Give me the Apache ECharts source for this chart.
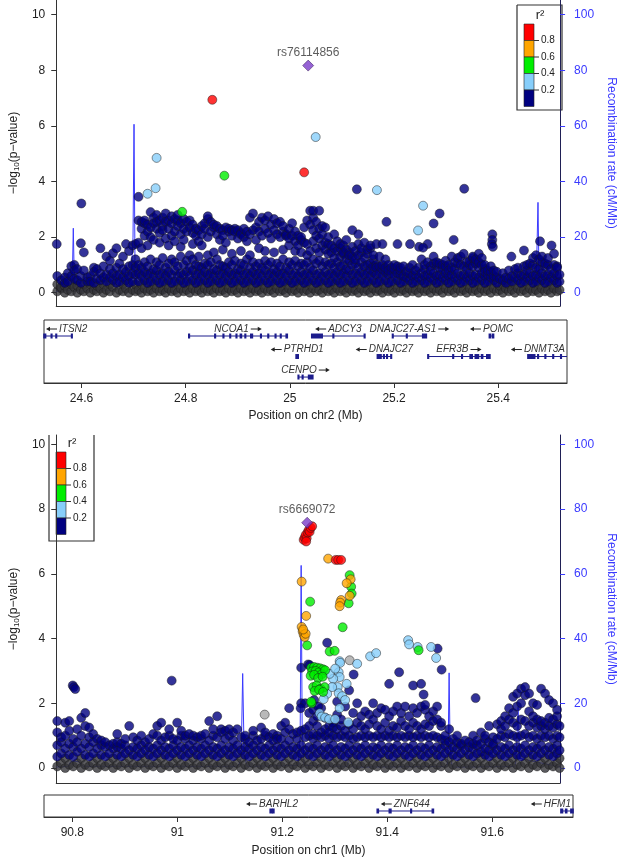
<!DOCTYPE html>
<html><head><meta charset="utf-8">
<script src="https://cdn.jsdelivr.net/npm/echarts@6/dist/echarts.min.js"></script>
<style>html,body{margin:0;padding:0;background:#fff}#c{width:625px;height:859px}</style>
</head><body><div id="c"></div>
<script>
// ---------------- DATA: top panel (chr2) ----------------
const topTicks = [24.6, 24.8, 25, 25.2, 25.4];
const pTicks = [0, 2, 4, 6, 8, 10];
const rTicks = [0, 20, 40, 60, 80, 100];
const ldBreaks = ['0.8', '0.6', '0.4', '0.2'];
const ldColors = ['#FF0000', '#FFA500', '#00EE00', '#87CEFA', '#000080'];

const topLead = [[25.030, 8.17]];
const topLeadName = ['rs76114856'];
const topRed = [[24.839, 6.94], [25.022, 4.33]];
const topGreen = [[24.863, 4.21], [24.779, 2.91]];
const topLightBlue = [[25.045, 5.60], [24.728, 4.85], [24.726, 3.76], [24.710, 3.56], [25.167, 3.69], [25.259, 3.13], [25.249, 2.24]];
const topNavyExtra = [[25.127, 3.72], [25.341, 3.74], [24.578, 3.21], [24.692, 3.45], [25.186, 2.55], [25.292, 2.85], [25.280, 2.49], [25.320, 1.90], [25.397, 2.1], [25.397, 1.9], [25.396, 1.75], [25.398, 1.65], [24.529, 1.75], [25.435, 1.3], [25.460, 1.52], [25.492, 1.85], [25.515, 1.7], [25.233, 1.75], [25.251, 1.65], [25.259, 1.62], [25.208, 1.75]];
const topCloud = [
[24.530,[0.05,0.3,0.6]],[24.538,[0.15,0.45,0.2]],[24.545,[0.0,0.35,0.55,0.25]],[24.551,[0.1,0.4,0.7]],
[24.558,[0.05,0.3,0.6,0.95]],[24.564,[0.2,0.5,1.0,0.8]],[24.570,[0.0,0.25,0.45,0.85]],[24.577,[0.1,0.35,0.6,1.78]],
[24.583,[0.05,0.3,1.45,0.8]],[24.590,[0.15,0.4,0.55]],[24.596,[0.0,0.3,0.6,0.4]],[24.603,[0.1,0.35,0.9,0.75]],
[24.609,[0.05,0.25,0.5,0.85]],[24.616,[0.15,0.45,0.7,1.6]],[24.622,[0.0,0.3,0.55,0.95]],[24.628,[0.1,0.4,0.65,1.3]],
[24.635,[0.05,0.3,0.55,1.15,0.85]],[24.641,[0.2,0.45,0.7,1.42]],[24.648,[0.0,0.35,0.6,0.9,1.6]],[24.654,[0.1,0.4,0.65,1.05]],
[24.661,[0.05,0.3,0.55,0.85,1.3]],[24.667,[0.15,0.45,0.75,1.75]],[24.673,[0.0,0.35,0.6,0.95,1.5]],[24.680,[0.1,0.4,0.7,1.0,1.7]],
[24.686,[0.05,0.3,0.65,0.9,1.75,1.2]],
[24.692,[0.1,0.4,0.7,1.0,1.8,2.6]],[24.698,[0.0,0.3,0.6,0.9,1.6,2.3,2.55]],[24.704,[0.15,0.45,0.75,1.1,2.05,2.5,2.6]],
[24.710,[0.05,0.35,0.65,0.95,1.7,2.2,2.45]],[24.716,[0.1,0.4,0.7,1.2,2.0,2.35,2.9]],[24.722,[0.0,0.3,0.6,0.85,1.9,2.7,2.5]],
[24.728,[0.15,0.45,0.8,1.1,2.3,2.55,2.8]],[24.734,[0.05,0.35,0.65,1.0,1.8,2.15,2.6]],[24.740,[0.1,0.4,0.7,1.25,2.4,2.7,2.25]],
[24.746,[0.0,0.3,0.6,0.9,1.95,2.55,2.85]],[24.752,[0.15,0.45,0.75,1.05,1.7,2.3,2.6]],[24.758,[0.05,0.35,0.65,1.2,2.05,2.5,2.75]],
[24.764,[0.1,0.4,0.8,1.1,1.85,2.2,2.65]],[24.770,[0.0,0.3,0.6,0.95,2.4,2.6,2.8]],[24.776,[0.15,0.45,0.7,1.3,1.65,2.1,2.5]],
[24.782,[0.05,0.35,0.65,1.0,1.9,2.3,2.65]],[24.788,[0.1,0.4,0.75,1.15,2.2,2.55]],[24.794,[0.0,0.3,0.6,0.9,1.35,2.35,2.6]],
[24.800,[0.15,0.45,0.8,1.2,1.75,2.15,2.45]],[24.806,[0.05,0.35,0.65,1.0,2.05,2.3]],[24.812,[0.1,0.4,0.7,0.95,1.3,1.85,2.25]],
[24.818,[0.0,0.3,0.6,0.9,2.1,2.4,1.7]],[24.824,[0.15,0.45,0.75,1.05,2.3,2.5]],[24.830,[0.05,0.35,0.65,1.0,1.35,2.0,2.65,2.75]],
[24.836,[0.1,0.4,0.7,1.1,2.2,2.55]],[24.842,[0.0,0.3,0.6,0.85,1.45,2.35,2.45]],[24.848,[0.15,0.45,0.8,1.2,2.1,2.4]],
[24.854,[0.05,0.35,0.65,1.0,1.9,2.3]],[24.860,[0.1,0.4,0.7,0.95,1.55,2.25,2.05]],[24.866,[0.0,0.3,0.6,0.9,1.8,2.35]],
[24.872,[0.15,0.45,0.75,1.1,2.2,2.3]],[24.878,[0.05,0.35,0.65,1.0,1.4,2.05,2.25]],[24.884,[0.1,0.4,0.7,1.15,2.3,2.2]],
[24.890,[0.0,0.3,0.6,0.85,1.95,2.25]],[24.896,[0.15,0.45,0.8,1.05,1.5,2.15,2.1]],[24.902,[0.05,0.35,0.65,1.0,2.0,2.3]],
[24.908,[0.1,0.4,0.7,1.2,1.85,2.2]],[24.914,[0.0,0.3,0.6,0.9,1.35,2.1,2.7]],[24.920,[0.15,0.45,0.75,1.1,2.25,2.85]],
[24.926,[0.05,0.35,0.65,0.95,1.9,2.35]],[24.932,[0.1,0.4,0.7,1.05,1.6,2.2,2.55]],[24.938,[0.0,0.3,0.6,0.9,2.05,2.7]],
[24.944,[0.15,0.45,0.8,1.15,1.5,2.3,2.6]],[24.950,[0.05,0.35,0.65,1.0,2.15,2.75]],[24.956,[0.1,0.4,0.7,1.1,1.95,2.45]],
[24.962,[0.0,0.3,0.6,0.85,1.45,2.25,2.65]],[24.968,[0.15,0.45,0.75,1.05,2.1,2.5]],[24.974,[0.05,0.35,0.65,0.95,2.0,2.55]],
[24.980,[0.1,0.4,0.7,1.2,1.55,2.2,2.4]],[24.986,[0.0,0.3,0.6,0.9,2.1,2.05]],[24.992,[0.15,0.45,0.8,1.1,1.7,2.3,1.95]],
[24.998,[0.05,0.35,0.65,1.0,2.05,2.5]],[25.004,[0.1,0.4,0.7,1.15,1.5,1.85,2.2]],[25.010,[0.0,0.3,0.6,0.95,1.7,2.05]],
[25.016,[0.15,0.45,0.75,1.05,1.45,1.9,2.0]],[25.022,[0.05,0.35,0.65,1.0,1.8,2.35]],[25.028,[0.1,0.4,0.7,1.1,1.35,1.75,2.6]],
[25.034,[0.0,0.3,0.6,0.9,1.5,2.45,2.95]],[25.040,[0.15,0.45,0.8,1.2,1.85,2.25,2.7,2.95]],[25.046,[0.05,0.35,0.65,1.05,1.6,2.05,2.55]],
[25.052,[0.1,0.4,0.7,1.15,1.45,1.95,2.3,2.95]],[25.058,[0.0,0.3,0.6,0.95,1.7,2.1,2.4]],[25.064,[0.15,0.45,0.75,1.1,1.55,1.8,2.35]],
[25.070,[0.05,0.35,0.65,1.0,1.4,1.75,2.0]],
[25.076,[0.1,0.4,0.7,1.05,1.45,1.7]],[25.082,[0.0,0.3,0.6,0.9,1.25,1.6,2.1]],[25.088,[0.15,0.45,0.75,1.1,1.5,1.85]],
[25.094,[0.05,0.35,0.65,0.95,1.3,1.6,1.75]],[25.100,[0.1,0.4,0.7,1.0,1.4,1.7,1.45]],[25.106,[0.0,0.3,0.6,0.85,1.2,1.55,1.9]],
[25.112,[0.15,0.45,0.8,1.15,1.45,1.35]],[25.118,[0.05,0.35,0.65,1.0,1.3,1.65,2.25]],[25.124,[0.1,0.4,0.7,1.05,1.5,1.2]],
[25.130,[0.0,0.3,0.6,0.9,1.35,1.75,2.1]],[25.136,[0.15,0.45,0.75,1.1,1.45,1.6]],[25.142,[0.05,0.35,0.65,0.95,1.25,1.8]],
[25.148,[0.1,0.4,0.7,1.0,1.4,1.55]],[25.154,[0.0,0.3,0.6,0.85,1.05,1.6,1.7]],[25.160,[0.15,0.45,0.75,0.95,1.2,1.35]],
[25.166,[0.05,0.35,0.65,1.0,0.9,1.75]],[25.172,[0.1,0.4,0.7,0.95,1.3]],[25.178,[0.0,0.3,0.6,0.85,1.0,1.75]],
[25.184,[0.15,0.45,0.75,0.9,1.2]],[25.190,[0.05,0.35,0.65,1.0,0.8]],[25.196,[0.1,0.4,0.7,0.9]],
[25.202,[0.0,0.3,0.6,0.85,1.0]],[25.208,[0.15,0.45,0.7,0.95]],[25.214,[0.05,0.35,0.65,0.8,0.9]],
[25.220,[0.1,0.4,0.6,0.95]],[25.226,[0.0,0.3,0.55,0.75]],[25.232,[0.15,0.45,0.7,0.9]],
[25.238,[0.05,0.35,0.6,1.0]],[25.244,[0.1,0.4,0.65,0.8]],[25.250,[0.0,0.3,0.55,0.9]],
[25.256,[0.15,0.45,0.7,1.2]],[25.262,[0.05,0.35,0.6,0.85,1.0]],[25.268,[0.1,0.4,0.65,1.1,1.75]],
[25.274,[0.0,0.3,0.55,0.95,0.8]],[25.280,[0.15,0.45,0.7,1.05,1.3]],[25.286,[0.05,0.35,0.6,1.0,1.1]],
[25.292,[0.1,0.4,0.65,0.9,1.05]],[25.298,[0.0,0.3,0.55,0.85,1.0]],[25.304,[0.15,0.45,0.7,0.95,1.15]],
[25.310,[0.05,0.35,0.6,1.0,0.8]],[25.316,[0.1,0.4,0.65,0.9,1.3]],[25.322,[0.0,0.3,0.55,0.85,1.1]],
[25.328,[0.15,0.45,0.7,1.05,1.25]],[25.334,[0.05,0.35,0.6,1.0,1.3]],[25.340,[0.1,0.4,0.65,0.95,1.4]],
[25.346,[0.0,0.3,0.55,0.85,1.1]],[25.352,[0.15,0.45,0.7,1.0,1.15]],[25.358,[0.05,0.35,0.6,0.95,1.25,1.3]],
[25.364,[0.1,0.4,0.65,1.05,1.2]],[25.370,[0.0,0.3,0.55,0.9,1.1,1.4]],[25.376,[0.15,0.45,0.7,1.0,1.25]],
[25.382,[0.05,0.35,0.6,0.85,1.0,0.75]],[25.388,[0.1,0.4,0.65,0.8]],[25.394,[0.0,0.3,0.55,0.75,0.95]],
[25.400,[0.15,0.45,0.6,0.8]],[25.406,[0.05,0.35,0.55,0.75]],[25.412,[0.1,0.25,0.5]],
[25.418,[0.0,0.3,0.45,0.7]],[25.424,[0.15,0.35,0.55]],[25.430,[0.05,0.3,0.5,0.8]],
[25.436,[0.1,0.4,0.6]],[25.442,[0.0,0.3,0.55,0.85]],[25.448,[0.15,0.45,0.7,0.9]],
[25.454,[0.05,0.35,0.6]],[25.460,[0.1,0.4,0.65,0.95]],[25.466,[0.0,0.3,0.55,0.8,1.0]],
[25.472,[0.15,0.45,0.7,1.05]],[25.478,[0.05,0.35,0.6,1.0,1.25]],[25.484,[0.1,0.4,0.65,0.9,1.35]],
[25.490,[0.0,0.3,0.55,0.85,1.2]],[25.496,[0.15,0.45,0.7,1.1,1.3]],[25.502,[0.05,0.35,0.6,0.95,1.05]],
[25.508,[0.1,0.4,0.65,1.0,1.25]],[25.514,[0.0,0.3,0.55,0.85]],[25.520,[0.15,0.45,0.7,1.0,1.4]],
[25.526,[0.05,0.35,0.6,0.95,0.9]],[25.531,[0.1,0.4,0.65]]
];
const topRecombPos  = [24.528,24.555,24.560,24.562,24.564,24.570,24.640,24.660,24.668,24.672,24.676,24.681,24.683,24.685,24.690,24.800,24.950,24.960,25.060,25.070,25.200,25.300,25.480,25.485,25.488,25.490,25.495,25.532];
const topRecombRate = [0.5,0.8,5,23.2,4,0.6,0.8,2,10,4,1.5,20,60.6,8,0.6,0.4,0.5,1.2,1.2,0.4,0.5,0.3,1.0,8,32.5,6,0.8,0.5];

const topGeneNames  = ['ITSN2','NCOA1','ADCY3','DNAJC27-AS1','POMC','PTRHD1','DNAJC27','EFR3B','DNMT3A','CENPO'];
const topGeneStart  = [24.500,24.806,25.042,25.197,25.383,25.012,25.168,25.265,25.457,25.016];
const topGeneEnd    = [24.582,24.995,25.144,25.262,25.391,25.016,25.195,25.384,25.540,25.044];
const topGeneRow    = [1,1,1,1,1,2,2,2,2,3];
const topGeneStrand = [-1,1,-1,1,-1,-1,-1,1,-1,1];
const topGeneExons  = [
  [[24.528,24.531],[24.542,24.543],[24.551,24.552],[24.581,24.582]],
  [[24.806,24.807],[24.856,24.857],[24.872,24.873],[24.885,24.886],[24.897,24.898],[24.905,24.907],[24.914,24.915],[24.925,24.928],[24.944,24.945],[24.958,24.959],[24.972,24.973],[24.982,24.983],[24.993,24.995]],
  [[25.042,25.062],[25.083,25.084],[25.143,25.144]],
  [[25.197,25.198],[25.224,25.225],[25.255,25.262]],
  [[25.383,25.385],[25.389,25.391]],
  [[25.012,25.016]],
  [[25.168,25.175],[25.180,25.181],[25.186,25.187],[25.194,25.195]],
  [[25.265,25.266],[25.313,25.314],[25.330,25.331],[25.346,25.350],[25.356,25.362],[25.368,25.370],[25.378,25.384]],
  [[25.457,25.470],[25.476,25.477],[25.490,25.491],[25.505,25.506],[25.520,25.521]],
  [[25.016,25.017],[25.024,25.025],[25.036,25.044]]
];

// ---------------- DATA: bottom panel (chr1) ----------------
const botTicks = [90.8, 91, 91.2, 91.4, 91.6];
const botLead = [[91.248, 7.58]];
const botLeadName = ['rs6669072'];
const botRed = [[91.241,7.05],[91.243,7.12],[91.245,7.2],[91.247,7.1],[91.249,7.28],[91.251,7.35],[91.253,7.3],[91.255,7.42],[91.258,7.47],[91.246,7.0],[91.305,6.43],[91.310,6.43],[91.316,6.43]];
const botOrange = [[91.290,6.47],[91.237,5.76],[91.246,4.70],[91.237,4.36],[91.239,4.22],[91.241,4.12],[91.243,4.05],[91.245,4.15],[91.240,4.28],[91.335,5.83],[91.327,5.71],[91.333,5.32],[91.316,5.19],[91.314,5.11],[91.313,5.0]];
const botGreen = [[91.254,5.14],[91.333,5.96],[91.336,5.60],[91.337,5.39],[91.331,5.09],[91.319,4.35],[91.248,3.79],[91.293,3.6],[91.303,3.62],
  [91.256,3.1],[91.262,3.12],[91.268,3.1],[91.274,3.08],[91.280,3.05],[91.258,2.98],[91.265,3.0],[91.271,2.95],[91.277,2.9],[91.284,3.02],
  [91.255,2.85],[91.262,2.88],[91.270,2.78],[91.279,2.82],[91.260,2.5],[91.267,2.55],[91.275,2.45],[91.283,2.5],[91.263,2.38],[91.272,2.42],
  [91.280,2.35],[91.257,2.0],[91.256,2.05],[91.471,3.64]];
const botLightBlue = [[91.313,3.3],[91.314,3.25],[91.311,2.96],[91.313,2.81],[91.309,2.5],[91.311,2.31],[91.318,2.22],[91.324,2.1],[91.327,2.6],
  [91.300,2.76],[91.298,2.5],[91.293,2.91],[91.304,3.07],[91.288,2.29],[91.281,2.13],[91.273,1.69],[91.277,1.59],[91.284,1.56],[91.292,1.51],
  [91.304,1.51],[91.313,1.85],[91.330,1.41],[91.348,3.22],[91.374,3.45],[91.386,3.55],[91.450,3.95],[91.452,3.82],[91.469,3.74],[91.496,3.74],[91.506,3.4]];
const botGray = [[91.333,3.33],[91.163,1.65]];
const botNavyExtra = [[91.288,3.87],[91.236,3.1],[91.250,3.2],[91.253,3.18],[91.341,2.89],[91.432,2.96],[91.476,2.6],[91.481,2.27],[91.509,3.69],
  [91.517,3.04],[91.585,2.16],[90.779,2.55],[90.781,2.5],[90.784,2.44],[90.977,2.7],[91.262,2.1],[91.270,1.9],[91.235,1.85]];
const botCloud = [
[90.748,[0.05,0.35,0.7,1.1,1.45]],[90.756,[0.15,0.45,0.8,0.95]],[90.764,[0.0,0.3,0.6,1.0,1.4]],[90.772,[0.1,0.4,0.75,1.15,1.45]],
[90.780,[0.05,0.35,0.65,0.9]],[90.788,[0.15,0.5,0.8,1.2]],[90.796,[0.0,0.3,0.6,1.0,1.55]],[90.804,[0.1,0.4,0.75,1.3,1.7]],
[90.812,[0.05,0.35,0.65,0.95,1.25]],[90.820,[0.15,0.45,0.8,1.05]],[90.828,[0.0,0.3,0.6,0.9]],[90.836,[0.1,0.4,0.7,0.85]],
[90.844,[0.05,0.35,0.65,0.8]],[90.852,[0.15,0.45,0.7]],[90.860,[0.0,0.3,0.6,0.75]],[90.868,[0.1,0.4,0.65,0.8,1.05]],
[90.876,[0.05,0.35,0.6,0.75]],[90.884,[0.15,0.45,0.7,0.9]],[90.892,[0.0,0.3,0.55,1.3]],[90.900,[0.1,0.4,0.65,0.95]],
[90.908,[0.05,0.35,0.6,0.85]],[90.916,[0.15,0.45,0.7,1.0]],[90.924,[0.0,0.3,0.55,0.8]],[90.932,[0.1,0.4,0.65,0.9]],
[90.940,[0.05,0.35,0.6,1.05]],[90.948,[0.15,0.45,0.7,1.0,1.3]],[90.956,[0.0,0.3,0.55,0.85,1.4]],[90.964,[0.1,0.4,0.65,0.95]],
[90.972,[0.05,0.35,0.6,1.0,1.2]],[90.980,[0.15,0.45,0.7,0.9]],[90.988,[0.0,0.3,0.55,0.85,1.4]],[90.996,[0.1,0.4,0.65,1.0,1.15]],
[91.004,[0.05,0.35,0.6,0.9,1.0]],[91.012,[0.15,0.45,0.7,1.05]],[91.020,[0.0,0.3,0.55,0.85,1.0]],[91.028,[0.1,0.4,0.65,0.95]],
[91.036,[0.05,0.35,0.6,0.9,1.0]],[91.044,[0.15,0.45,0.7,1.05]],[91.052,[0.0,0.3,0.55,0.85,1.45]],[91.060,[0.1,0.4,0.65,1.0,1.2]],
[91.068,[0.05,0.35,0.6,0.95,1.6]],[91.076,[0.15,0.45,0.7,1.2,1.1]],[91.084,[0.0,0.3,0.55,0.9,1.15]],[91.092,[0.1,0.4,0.65,1.0,1.2]],
[91.100,[0.05,0.35,0.6,0.85,1.1]],[91.108,[0.15,0.45,0.7,1.2]],[91.116,[0.0,0.3,0.55,0.95]],[91.124,[0.1,0.4,0.65,0.9,1.0]],
[91.132,[0.05,0.35,0.6,0.8]],[91.140,[0.15,0.45,0.7,1.0,1.15]],[91.148,[0.0,0.3,0.55,0.85]],[91.156,[0.1,0.4,0.65,0.9,1.25]],
[91.164,[0.05,0.35,0.6,1.0,1.1]],[91.172,[0.15,0.45,0.7,0.95]],[91.180,[0.0,0.3,0.55,0.85,1.05]],[91.188,[0.1,0.4,0.65,1.0,0.9]],
[91.196,[0.05,0.35,0.6,0.9,1.3]],[91.204,[0.15,0.45,0.7,1.1,1.4]],[91.212,[0.0,0.3,0.55,0.85,1.2,1.85]],[91.220,[0.1,0.4,0.65,1.05]],
[91.228,[0.05,0.35,0.6,0.9,1.1]],[91.236,[0.15,0.45,0.7,1.15,2.0]],[91.244,[0.0,0.3,0.55,0.95,1.2,2.0]],[91.252,[0.1,0.4,0.65,1.0,1.3,1.7]],
[91.260,[0.05,0.35,0.6,0.9,1.05,1.45,1.8]],[91.268,[0.15,0.45,0.7,1.0,1.3,1.6]],[91.276,[0.0,0.3,0.55,0.95,1.1,1.85]],[91.284,[0.1,0.4,0.65,1.0,1.2,1.55]],
[91.292,[0.05,0.35,0.6,0.9,1.3,1.1]],[91.300,[0.15,0.45,0.7,1.0,1.4,1.25]],[91.308,[0.0,0.3,0.55,0.95,1.2,1.65,2.05]],[91.316,[0.1,0.4,0.65,1.0,1.3,1.5]],
[91.324,[0.05,0.35,0.6,0.95,1.15,1.9]],[91.332,[0.15,0.45,0.7,1.0,1.35,2.4]],[91.340,[0.0,0.3,0.55,0.9,1.2,1.7]],[91.348,[0.1,0.4,0.65,0.95,1.4,2.0]],
[91.356,[0.05,0.35,0.6,1.0,1.3,1.6]],[91.364,[0.15,0.45,0.7,0.95,1.2,1.75]],[91.372,[0.0,0.3,0.55,1.0,1.35,1.65]],[91.380,[0.1,0.4,0.65,0.95,1.5,2.0]],
[91.388,[0.05,0.35,0.6,1.0,1.3,1.7]],[91.396,[0.15,0.45,0.7,0.95,1.2,1.85]],[91.404,[0.0,0.3,0.55,1.0,1.4,1.8]],[91.412,[0.1,0.4,0.65,0.95,1.15,1.6,2.6]],
[91.420,[0.05,0.35,0.6,1.0,1.3,1.75]],[91.428,[0.15,0.45,0.7,0.95,1.25,1.9]],[91.436,[0.0,0.3,0.55,1.0,1.45,1.7]],[91.444,[0.1,0.4,0.65,0.95,1.3,1.9]],
[91.452,[0.05,0.35,0.6,1.0,1.2,1.6]],[91.460,[0.15,0.45,0.7,0.95,1.4,1.85,2.55]],[91.468,[0.0,0.3,0.55,1.0,1.3,1.7]],[91.476,[0.1,0.4,0.65,0.95,1.2,1.9]],
[91.484,[0.05,0.35,0.6,1.0,1.35,1.8,1.95]],[91.492,[0.15,0.45,0.7,0.95,1.3,1.6]],[91.500,[0.0,0.3,0.55,1.0,1.45,1.75]],[91.508,[0.1,0.4,0.65,0.95,1.5,1.9]],
[91.516,[0.05,0.35,0.6,0.9,1.3,1.4]],[91.524,[0.15,0.45,0.7,0.85,1.0]],[91.532,[0.0,0.3,0.55,0.8,1.2]],[91.540,[0.1,0.4,0.65,0.9]],
[91.548,[0.05,0.35,0.6,0.8,1.0]],[91.556,[0.15,0.45,0.7,0.75]],[91.564,[0.0,0.3,0.55,0.85]],[91.572,[0.1,0.4,0.65,0.8]],
[91.580,[0.05,0.35,0.6,0.75,1.0]],[91.588,[0.15,0.45,0.7,0.85]],[91.596,[0.0,0.3,0.5,0.75,1.1]],[91.604,[0.1,0.4,0.6,0.9,1.0]],
[91.612,[0.05,0.35,0.55,0.8,1.3]],[91.620,[0.15,0.45,0.7,0.95,0.75]],[91.628,[0.0,0.3,0.55,0.9,1.35]],[91.636,[0.1,0.4,0.65,1.0,1.2,1.45]],
[91.644,[0.05,0.35,0.6,0.95,1.3,1.6]],[91.652,[0.15,0.45,0.7,1.05,1.5,1.85]],[91.660,[0.0,0.3,0.55,1.0,1.4,1.7,2.2]],[91.668,[0.1,0.4,0.65,0.95,1.3,1.9,2.3]],
[91.676,[0.05,0.35,0.6,1.0,1.5,2.0,2.45]],[91.684,[0.15,0.45,0.7,1.05,1.45,2.25,2.5]],[91.692,[0.0,0.3,0.55,0.95,1.3,1.75,2.3]],[91.700,[0.1,0.4,0.65,1.0,1.4,1.6,2.0]],
[91.708,[0.05,0.35,0.6,0.9,1.25,1.5,1.95]],[91.716,[0.15,0.45,0.7,1.0,1.3,1.45,2.45]],[91.724,[0.0,0.3,0.55,0.95,1.2,1.4,2.3]],[91.732,[0.1,0.4,0.65,1.0,1.3,1.55,2.1]],
[91.740,[0.05,0.35,0.6,0.9,1.25,1.5,2.0]],[91.748,[0.15,0.45,0.7,1.0,1.35,1.6,1.8]],[91.753,[0.0,0.3,0.55,0.95,1.3]]
];
const botRecombPos  = [90.746,90.770,90.775,90.790,90.800,91.110,91.116,91.119,91.122,91.128,91.230,91.234,91.236,91.238,91.242,91.328,91.331,91.333,91.336,91.340,91.528,91.530,91.532,91.534,91.538,91.664,91.667,91.670,91.673,91.754];
const botRecombRate = [0.3,0.5,2,2,0.5,0.5,3,29.2,4,0.5,0.8,10,62.6,12,0.8,0.5,3,4,2,0.3,0.5,5,29.4,6,0.3,0.5,6,19,3,0.3];

const botGeneNames  = ['BARHL2','ZNF644','HFM1'];
const botGeneStart  = [91.177,91.381,91.731];
const botGeneEnd    = [91.184,91.488,91.800];
const botGeneRow    = [1,1,1];
const botGeneStrand = [-1,-1,-1];
const botGeneExons  = [
  [[91.177,91.180],[91.182,91.184]],
  [[91.381,91.383],[91.404,91.407],[91.445,91.446],[91.486,91.488]],
  [[91.731,91.734],[91.740,91.742],[91.750,91.754]]
];

// ---------------- helpers ----------------
const FONT = '"Liberation Sans", Arial, sans-serif';
const zip = (a, b) => a.map((v, i) => [v, b[i]]);
// lowest points of the dense cloud are overplotted so heavily that they read as dark grey
const cloudLow = c => c.flatMap(([x, ys]) => ys.filter(y => y <= 0.3).map(y => [x, y]));
const cloudHigh = c => c.flatMap(([x, ys]) => ys.filter(y => y > 0.3).map(y => [x, y]));
const mctx = document.createElement('canvas').getContext('2d');
const GFONT = 'italic 10px ' + FONT;
function tw(t) { mctx.font = GFONT; return mctx.measureText(t).width; }

function geneRender(names, exons) {
  return function (params, api) {
    const i = params.dataIndex;
    const s = api.value(0), e = api.value(1), row = api.value(2), strand = api.value(3);
    const cs = params.coordSys;
    const p1 = api.coord([s, row]), p2 = api.coord([e, row]);
    const L = cs.x, R = cs.x + cs.width;
    const x1 = Math.max(p1[0], L), x2 = Math.min(p2[0], R);
    const y = p1[1];
    const ch = [{ type: 'line', shape: { x1: x1, y1: y, x2: x2, y2: y }, style: { stroke: '#1c1c8c', lineWidth: 1 } }];
    exons[i].forEach(ex => {
      const a = Math.max(api.coord([ex[0], row])[0], L), b = Math.min(api.coord([ex[1], row])[0], R);
      ch.push({ type: 'rect', shape: { x: a - 0.8, y: y - 2.5, width: Math.max(b - a, 0) + 1.6, height: 5 }, style: { fill: '#1c1c8c' } });
    });
    const name = names[i];
    const wText = tw(name), arrowW = 11, gap = 2;
    const w = wText + arrowW + gap;
    let cx = (p1[0] + p2[0]) / 2;
    if (p2[0] > R) cx = (p1[0] + R) / 2;
    if (p1[0] < L) cx = (L + p2[0]) / 2;
    cx = Math.max(L + w / 2 + 2, Math.min(R - w / 2 - 2, cx));
    const left = cx - w / 2, ty = y - 7;
    let ax0, ax1, textX;
    if (strand < 0) { ax0 = left + arrowW; ax1 = left; textX = left + arrowW + gap; }
    else { textX = left; ax0 = left + wText + gap; ax1 = ax0 + arrowW; }
    const dir = Math.sign(ax1 - ax0);
    ch.push({ type: 'line', shape: { x1: ax0, y1: ty, x2: ax1 - dir * 2, y2: ty }, style: { stroke: '#222', lineWidth: 1 } });
    ch.push({ type: 'polygon', shape: { points: [[ax1, ty], [ax1 - dir * 4, ty - 2.2], [ax1 - dir * 4, ty + 2.2]] }, style: { fill: '#222' } });
    ch.push({ type: 'text', x: textX, y: ty, style: { text: name, font: GFONT, fill: '#333', align: 'left', verticalAlign: 'middle' } });
    return { type: 'group', children: ch };
  };
}
function geneData(st, en, row, strand) { return st.map((v, i) => [v, en[i], row[i], strand[i]]); }

function scatter(xi, yi, data, color, z, border) {
  return { type: 'scatter', xAxisIndex: xi, yAxisIndex: yi, data: data, symbol: 'circle', symbolSize: 9,
    itemStyle: { color: color, borderColor: border || '#1a1a1a', borderWidth: 0.6 }, z: z, silent: true };
}
function leadSeries(xi, yi, data, names) {
  return { type: 'scatter', xAxisIndex: xi, yAxisIndex: yi, symbol: 'diamond', symbolSize: 11, z: 10, silent: true,
    data: data.map((d, i) => ({ value: d, name: names[i] })),
    itemStyle: { color: '#7B3BC9', borderColor: '#2a0f4a', borderWidth: 0.6 },
    label: { show: true, position: 'top', distance: 1, formatter: p => p.name, fontFamily: FONT, fontSize: 12, color: '#333' } };
}
function recomb(xi, yi, pos, rate) {
  return { type: 'line', xAxisIndex: xi, yAxisIndex: yi, data: zip(pos, rate), showSymbol: false, silent: true, z: 1,
    lineStyle: { color: '#3a3aff', width: 1 } };
}

const axisTxt = { fontFamily: FONT, fontSize: 12, color: '#222' };
const yName = { name: '{t|\u2212log}{s|10}{t|(p\u2212value)}', nameLocation: 'middle', nameGap: 30, nameRotate: 90,
  nameTextStyle: { rich: { t: { fontFamily: FONT, fontSize: 12, color: '#222' }, s: { fontFamily: FONT, fontSize: 8, color: '#222', padding: [6, 0, 0, 0] } } } };

function pAxis(gi, min, max) {
  return Object.assign({ gridIndex: gi, type: 'value', min: min, max: max, position: 'left',
    axisLine: { show: true, onZero: false, lineStyle: { color: '#333' } },
    axisTick: { show: true, length: 5, customValues: pTicks, lineStyle: { color: '#333' } },
    axisLabel: Object.assign({ customValues: pTicks, margin: 11 }, axisTxt),
    splitLine: { show: false } }, yName);
}
function rAxis(gi, min, max) {
  return { gridIndex: gi, type: 'value', min: min, max: max, position: 'right',
    axisLine: { show: true, onZero: false, lineStyle: { color: '#1f1f55' } },
    axisTick: { show: true, length: 5, customValues: rTicks, lineStyle: { color: '#3a3aff' } },
    axisLabel: { customValues: rTicks, margin: 14, fontFamily: FONT, fontSize: 12, color: '#3a3aff' },
    splitLine: { show: false },
    name: 'Recombination rate (cM/Mb)', nameLocation: 'middle', nameRotate: -90, nameGap: 36,
    nameTextStyle: { fontFamily: FONT, fontSize: 12, color: '#3a3aff' } };
}
function scatterX(gi, min, max) {
  return { gridIndex: gi, type: 'value', min: min, max: max,
    axisLine: { show: true, onZero: false, lineStyle: { color: '#333' } },
    axisTick: { show: false }, axisLabel: { show: false }, splitLine: { show: false } };
}
function geneX(gi, min, max, ticks, title, gap) {
  return { gridIndex: gi, type: 'value', min: min, max: max,
    axisLine: { show: true, onZero: false, lineStyle: { color: '#333' } },
    axisTick: { show: true, length: 5, customValues: ticks, lineStyle: { color: '#333' } },
    axisLabel: Object.assign({ customValues: ticks, margin: 10 }, axisTxt),
    splitLine: { show: false },
    name: title, nameLocation: 'middle', nameGap: gap, nameTextStyle: axisTxt };
}
function geneY(gi, min, max) {
  return { gridIndex: gi, type: 'value', min: min, max: max, inverse: true, show: false, splitLine: { show: false } };
}

// legend (r^2 colour key) as graphic elements
function ldLegend(x, yTop, boxTop, boxBottom, closedTop) {
  const bx0 = x, bx1 = x + 45, barX = x + 7, barW = 10, seg = 16.5, barTop = yTop + 19;
  const els = [];
  const pts = closedTop ? [[bx0, boxTop], [bx1, boxTop], [bx1, boxBottom], [bx0, boxBottom], [bx0, boxTop]]
                        : [[bx0, boxTop], [bx0, boxBottom], [bx1, boxBottom], [bx1, boxTop]];
  els.push({ type: 'polyline', shape: { points: pts }, style: { stroke: '#333', lineWidth: 1.2, fill: null }, silent: true });
  els.push({ type: 'text', x: x + 23, y: yTop + 10, style: { text: 'r\u00B2', font: '13px ' + FONT, fill: '#222', align: 'center', verticalAlign: 'middle' } });
  ldColors.forEach((c, i) => {
    els.push({ type: 'rect', shape: { x: barX, y: barTop + i * seg, width: barW, height: seg }, style: { fill: c, stroke: '#222', lineWidth: 0.6 } });
  });
  ldBreaks.forEach((t, i) => {
    const yy = barTop + (i + 1) * seg;
    els.push({ type: 'line', shape: { x1: barX + barW, y1: yy, x2: barX + barW + 5, y2: yy }, style: { stroke: '#333', lineWidth: 1 } });
    els.push({ type: 'text', x: barX + barW + 7, y: yy, style: { text: t, font: '10px ' + FONT, fill: '#222', align: 'left', verticalAlign: 'middle' } });
  });
  return els;
}

const chart = echarts.init(document.getElementById('c'), null, { renderer: 'canvas' });
chart.setOption({
  animation: false,
  backgroundColor: '#fff',
  grid: [
    { left: 44, top: 0, width: 523, height: 306 },
    { left: 44, top: 320, width: 523, height: 63, show: true, borderColor: '#333', borderWidth: 1 },
    { left: 44, top: 435, width: 529, height: 348 },
    { left: 44, top: 795, width: 529, height: 22, show: true, borderColor: '#333', borderWidth: 1 }
  ],
  xAxis: [
    scatterX(0, 24.528, 25.532),
    geneX(1, 24.528, 25.532, topTicks, 'Position on chr2 (Mb)', 27),
    scatterX(2, 90.746, 91.754),
    geneX(3, 90.746, 91.754, botTicks, 'Position on chr1 (Mb)', 28)
  ],
  yAxis: [
    pAxis(0, -0.478, 10.53),
    rAxis(0, -4.78, 105.3),
    geneY(1, 0.22, 3.29),
    pAxis(2, -0.463, 10.29),
    rAxis(2, -4.63, 102.9),
    geneY(3, 0.22, 1.293)
  ],
  series: [
    recomb(0, 1, topRecombPos, topRecombRate),
    scatter(0, 0, cloudLow(topCloud), '#333338', 2, '#1a1a1a'),
    scatter(0, 0, cloudHigh(topCloud).concat(topNavyExtra), '#000080', 2),
    scatter(0, 0, topLightBlue, '#87CEFA', 3),
    scatter(0, 0, topGreen, '#00EE00', 4),
    scatter(0, 0, topRed, '#FF0000', 6),
    leadSeries(0, 0, topLead, topLeadName),
    { type: 'custom', xAxisIndex: 1, yAxisIndex: 2, renderItem: geneRender(topGeneNames, topGeneExons),
      data: geneData(topGeneStart, topGeneEnd, topGeneRow, topGeneStrand), silent: true, clip: false },

    recomb(2, 4, botRecombPos, botRecombRate),
    scatter(2, 3, cloudLow(botCloud), '#333338', 2, '#1a1a1a'),
    scatter(2, 3, cloudHigh(botCloud).concat(botNavyExtra), '#000080', 2),
    scatter(2, 3, botGray, '#A8A8A8', 3),
    scatter(2, 3, botLightBlue, '#87CEFA', 3),
    scatter(2, 3, botGreen, '#00EE00', 4),
    scatter(2, 3, botOrange, '#FFA500', 5),
    scatter(2, 3, botRed, '#FF0000', 6),
    leadSeries(2, 3, botLead, botLeadName),
    { type: 'custom', xAxisIndex: 3, yAxisIndex: 5, renderItem: geneRender(botGeneNames, botGeneExons),
      data: geneData(botGeneStart, botGeneEnd, botGeneRow, botGeneStrand), silent: true, clip: false }
  ],
  graphic: ldLegend(517, 5, 5, 110, true).concat(ldLegend(49, 433, 435, 541, false))
});
</script></body></html>
